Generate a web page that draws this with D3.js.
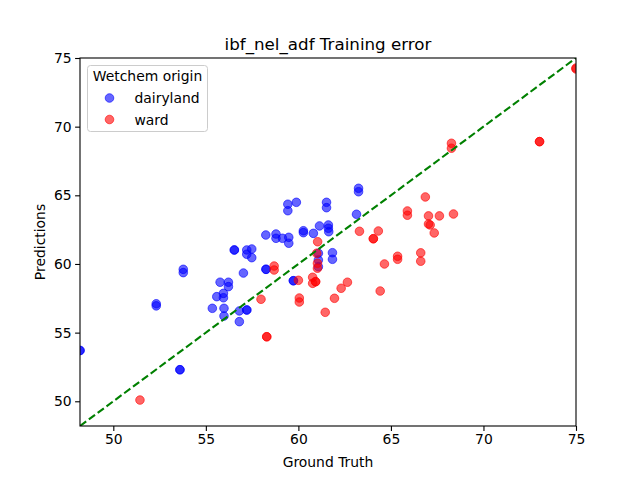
<!DOCTYPE html>
<html>
<head>
<meta charset="utf-8">
<script src="https://cdn.jsdelivr.net/npm/d3@7"></script>
<style>
html,body{margin:0;padding:0;background:#fff;}
svg{display:block;font-family:"DejaVu Sans",sans-serif;}
</style>
</head>
<body>
<svg id="chart" width="640" height="480"></svg>
<script>
const title = "ibf_nel_adf Training error";
const xLabel = "Ground Truth";
const yLabel = "Predictions";
const legendTitle = "Wetchem origin";
const seriesNames = ["dairyland", "ward"];
const seriesColors = ["blue", "red"];
const axisDomain = [48.2, 75];
const tickValues = [50, 55, 60, 65, 70, 75];

const dairylandTruth = [48.2, 48.2, 53.6, 53.6, 52.32, 52.32, 53.78, 53.78, 55.35, 55.59, 55.77, 55.95, 55.95,
  55.98, 55.98, 56.22, 56.22, 56.54, 56.54, 56.81, 57.21, 57.21, 56.81, 57.03, 57.21, 57.48, 57.21, 57.48,
  58.24, 58.25, 58.25, 58.79, 58.79, 59.14, 59.48, 59.48, 59.43, 59.43, 59.89, 59.73, 59.73, 60.27, 60.27,
  60.81, 61.14, 61.62, 61.62, 61.64, 61.52, 61.52, 61.08, 61.08, 61.08, 61.84, 61.84, 63.14, 63.25, 63.25];
const dairylandPred = [53.7, 53.7, 52.3, 52.3, 57.1, 56.95, 59.61, 59.37, 56.77, 57.62, 58.67, 57.86, 57.54,
  56.77, 56.21, 58.67, 58.35, 61.02, 61.02, 56.58, 56.65, 56.65, 55.8, 59.34, 61.02, 61.09, 60.71, 60.46,
  62.11, 59.61, 59.61, 62.18, 61.87, 61.87, 61.94, 61.51, 64.35, 63.88, 64.49, 58.78, 58.78, 62.42, 62.28,
  62.23, 62.77, 62.84, 62.6, 62.35, 64.49, 64.1, 60.78, 60.29, 59.8, 60.82, 60.34, 63.62, 65.51, 65.26];

const wardTruth = [51.44, 57.98, 58.29, 58.29, 58.69, 58.69, 60.0, 60.05, 60.05, 60.77, 60.77, 60.93, 60.93,
  61.04, 60.99, 61.03, 61.03, 61.45, 61.95, 62.31, 62.65, 63.3, 64.05, 64.05, 64.32, 64.42, 64.65, 65.36, 65.36,
  65.89, 65.89, 66.61, 66.61, 66.86, 67.03, 67.03, 67.12, 67.34, 67.62, 68.38, 68.27, 68.27, 73.03, 73.03,
  75.0, 75.0];
const wardPred = [50.09, 57.43, 54.7, 54.7, 59.85, 59.56, 58.81, 57.52, 57.23, 59.03, 58.59, 58.71, 58.71,
  61.62, 60.78, 60.05, 59.69, 56.48, 57.5, 58.23, 58.67, 62.38, 61.84, 61.84, 62.4, 58.03, 60.0, 60.56, 60.34,
  63.86, 63.55, 60.81, 60.2, 64.88, 63.5, 62.91, 62.84, 62.26, 63.5, 63.64, 68.79, 68.43, 68.91, 68.91,
  74.27, 74.2];

const series = [
  {name: seriesNames[0], color: seriesColors[0], truth: dairylandTruth, pred: dairylandPred},
  {name: seriesNames[1], color: seriesColors[1], truth: wardTruth, pred: wardPred}
];

const svg = d3.select("#chart");
const margin = {left: 80, right: 64, top: 58, bottom: 54};
const W = 640, H = 480;
const x = d3.scaleLinear().domain(axisDomain).range([margin.left, W - margin.right]);
const y = d3.scaleLinear().domain(axisDomain).range([H - margin.bottom, margin.top]);

svg.append("defs").append("clipPath").attr("id", "clip")
  .append("rect").attr("x", margin.left).attr("y", margin.top)
  .attr("width", W - margin.left - margin.right).attr("height", H - margin.top - margin.bottom);

const plot = svg.append("g").attr("clip-path", "url(#clip)");

series.forEach(s => {
  plot.append("g").selectAll("circle")
    .data(s.truth.map((t, i) => [t, s.pred[i]]))
    .join("circle")
    .attr("cx", d => x(d[0]))
    .attr("cy", d => y(d[1]))
    .attr("r", 4.3)
    .attr("fill", s.color)
    .attr("fill-opacity", 0.6)
    .attr("stroke", s.color)
    .attr("stroke-opacity", 0.6)
    .attr("stroke-width", 1);
});

plot.append("line")
  .attr("x1", x(axisDomain[0])).attr("y1", y(axisDomain[0]))
  .attr("x2", x(axisDomain[1])).attr("y2", y(axisDomain[1]))
  .attr("stroke", "green").attr("stroke-width", 2.1)
  .attr("stroke-dasharray", "7.7,3.3");

const xAxis = svg.append("g").attr("transform", `translate(0,${H - margin.bottom})`)
  .call(d3.axisBottom(x).tickValues(tickValues).tickSize(4.9).tickPadding(3.5).tickFormat(d3.format("d")));
const yAxis = svg.append("g").attr("transform", `translate(${margin.left},0)`)
  .call(d3.axisLeft(y).tickValues(tickValues).tickSize(4.9).tickPadding(3.5).tickFormat(d3.format("d")));
[xAxis, yAxis].forEach(a => {
  a.select(".domain").remove();
  a.selectAll(".tick line").attr("stroke", "#000").attr("stroke-width", 1.1);
  a.selectAll(".tick text").attr("font-size", "13.9px").attr("fill", "#000")
    .attr("font-family", "DejaVu Sans");
});

svg.append("rect").attr("x", margin.left).attr("y", margin.top)
  .attr("width", W - margin.left - margin.right).attr("height", H - margin.top - margin.bottom)
  .attr("fill", "none").attr("stroke", "#000").attr("stroke-width", 1.1);

svg.append("text").attr("x", (margin.left + W - margin.right) / 2).attr("y", 50)
  .attr("text-anchor", "middle").attr("font-size", "16.7px").text(title);
svg.append("text").attr("x", (margin.left + W - margin.right) / 2).attr("y", 467)
  .attr("text-anchor", "middle").attr("font-size", "13.9px").text(xLabel);
svg.append("text").attr("transform", `translate(45,${(margin.top + H - margin.bottom) / 2}) rotate(-90)`)
  .attr("text-anchor", "middle").attr("font-size", "13.9px").text(yLabel);

const lg = svg.append("g");
lg.append("rect").attr("x", 87.5).attr("y", 65.5).attr("width", 120).attr("height", 66)
  .attr("rx", 3).attr("fill", "#fff").attr("fill-opacity", 0.8)
  .attr("stroke", "#cccccc").attr("stroke-width", 1);
lg.append("text").attr("x", 147.5).attr("y", 81).attr("text-anchor", "middle")
  .attr("font-size", "13.9px").text(legendTitle);
series.forEach((s, i) => {
  const yy = 98 + i * 21.5;
  lg.append("circle").attr("cx", 109.5).attr("cy", yy).attr("r", 4.3)
    .attr("fill", s.color).attr("fill-opacity", 0.6)
    .attr("stroke", s.color).attr("stroke-opacity", 0.6);
  lg.append("text").attr("x", 134.5).attr("y", yy + 5).attr("font-size", "13.9px").text(s.name);
});
</script>
</body>
</html>
